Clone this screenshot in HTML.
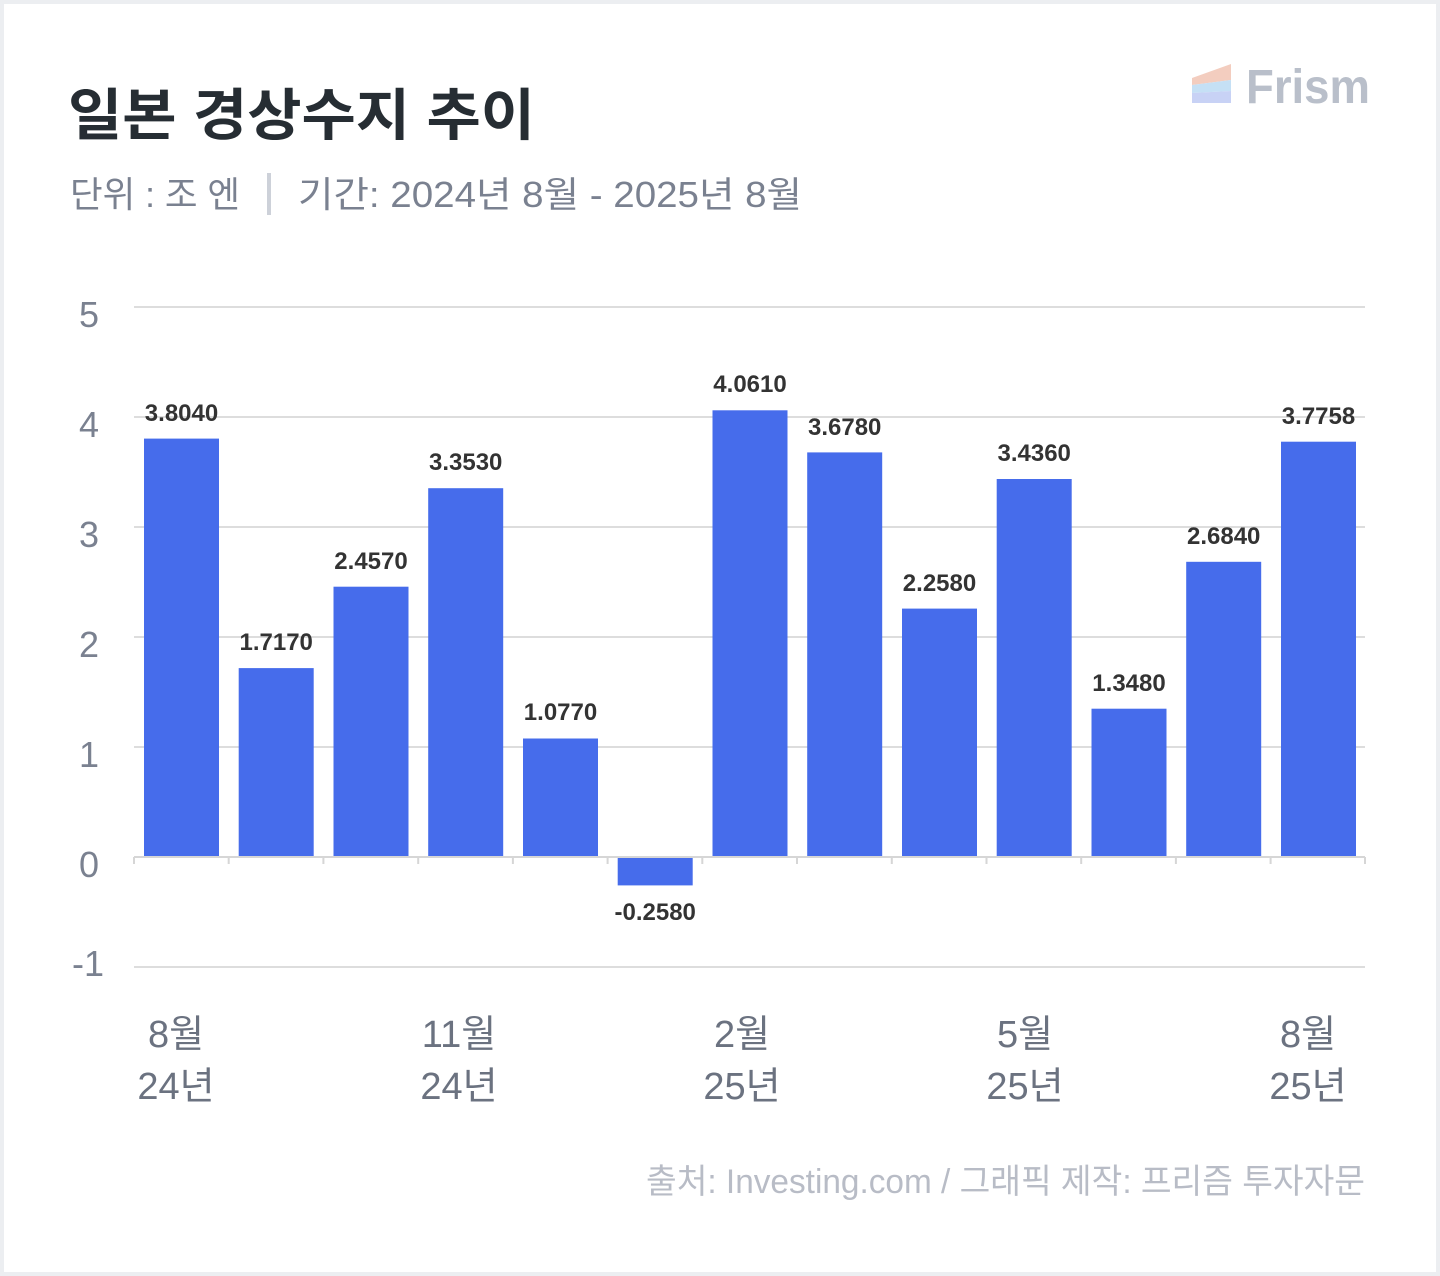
<!DOCTYPE html>
<html><head><meta charset="utf-8"><style>
html,body{margin:0;padding:0;background:#eceef1;}
svg{display:block;}
text{font-family:"Liberation Sans","Noto Sans CJK KR",sans-serif;}
</style></head><body>
<svg width="1440" height="1276" viewBox="0 0 1440 1276" xmlns="http://www.w3.org/2000/svg">
<rect x="4" y="4" width="1432" height="1268" fill="#ffffff"/>
<text x="68" y="135" font-size="56" font-weight="bold" fill="#262d33" textLength="467" lengthAdjust="spacingAndGlyphs">일본 경상수지 추이</text>
<text x="70" y="207" font-size="36" fill="#7a8190" textLength="170" lengthAdjust="spacingAndGlyphs">단위 : 조 엔</text>
<rect x="267" y="173" width="4" height="42" fill="#cdd1d9"/>
<text x="298" y="207" font-size="36" fill="#7a8190" textLength="504" lengthAdjust="spacingAndGlyphs">기간: 2024년 8월 - 2025년 8월</text>
<g>
<polygon points="1192,78 1231,64 1231,80 1192,85" fill="#f3cdbf"/>
<polygon points="1192,85 1231,80 1231,91 1192,93" fill="#c5e0f5"/>
<polygon points="1192,93 1231,91 1231,103 1192,103" fill="#c8d2f5"/>
<text x="1246" y="103" font-size="48" font-weight="bold" fill="#b9bfca" textLength="124" lengthAdjust="spacingAndGlyphs">Frism</text>
</g>
<g stroke="#dddddd" stroke-width="2">
<line x1="134" y1="307" x2="1365" y2="307"/>
<line x1="134" y1="417" x2="1365" y2="417"/>
<line x1="134" y1="527" x2="1365" y2="527"/>
<line x1="134" y1="637" x2="1365" y2="637"/>
<line x1="134" y1="747" x2="1365" y2="747"/>
<line x1="134" y1="967" x2="1365" y2="967"/>
</g>
<g font-size="36" fill="#7a8190" text-anchor="end">
<text x="99" y="327">5</text>
<text x="99" y="437">4</text>
<text x="99" y="547">3</text>
<text x="99" y="657">2</text>
<text x="99" y="767">1</text>
<text x="99" y="877">0</text>
<text x="104" y="976">-1</text>
</g>
<g fill="#466ceb">
<rect x="144" y="438.6" width="75" height="418.4"/>
<rect x="238.7" y="668.1" width="75" height="188.9"/>
<rect x="333.5" y="586.7" width="75" height="270.3"/>
<rect x="428.2" y="488.2" width="75" height="368.8"/>
<rect x="523" y="738.5" width="75" height="118.5"/>
<rect x="617.7" y="857" width="75" height="28.4"/>
<rect x="712.5" y="410.3" width="75" height="446.7"/>
<rect x="807.2" y="452.4" width="75" height="404.6"/>
<rect x="902" y="608.6" width="75" height="248.4"/>
<rect x="996.7" y="479" width="75" height="378"/>
<rect x="1091.5" y="708.7" width="75" height="148.3"/>
<rect x="1186.2" y="561.8" width="75" height="295.2"/>
<rect x="1281" y="441.7" width="75" height="415.3"/>
</g>
<g stroke="#d6d6d6" stroke-width="2" fill="none">
<line x1="134" y1="857" x2="1365" y2="857"/>
<path d="M134,857v7M228.7,857v7M323.4,857v7M418.2,857v7M512.9,857v7M607.6,857v7M702.3,857v7M797,857v7M891.8,857v7M986.5,857v7M1081.2,857v7M1175.9,857v7M1270.6,857v7M1365,857v7"/>
</g>
<g font-size="24" font-weight="bold" fill="#333" text-anchor="middle">
<text x="181.5" y="421">3.8040</text>
<text x="276.2" y="650">1.7170</text>
<text x="371" y="569">2.4570</text>
<text x="465.7" y="470">3.3530</text>
<text x="560.5" y="720">1.0770</text>
<text x="655.2" y="920">-0.2580</text>
<text x="750" y="392">4.0610</text>
<text x="844.7" y="435">3.6780</text>
<text x="939.5" y="591">2.2580</text>
<text x="1034.2" y="461">3.4360</text>
<text x="1129" y="691">1.3480</text>
<text x="1223.7" y="544">2.6840</text>
<text x="1318.5" y="424">3.7758</text>
</g>
<g font-size="38" fill="#6b7280" text-anchor="middle">
<text x="176" y="1047">8월</text><text x="176" y="1099">24년</text>
<text x="459" y="1047">11월</text><text x="459" y="1099">24년</text>
<text x="742" y="1047">2월</text><text x="742" y="1099">25년</text>
<text x="1025" y="1047">5월</text><text x="1025" y="1099">25년</text>
<text x="1308" y="1047">8월</text><text x="1308" y="1099">25년</text>
</g>
<text x="646" y="1193" font-size="34" fill="#b8bcc6" textLength="719" lengthAdjust="spacingAndGlyphs">출처: Investing.com / 그래픽 제작: 프리즘 투자자문</text>
</svg>
</body></html>
